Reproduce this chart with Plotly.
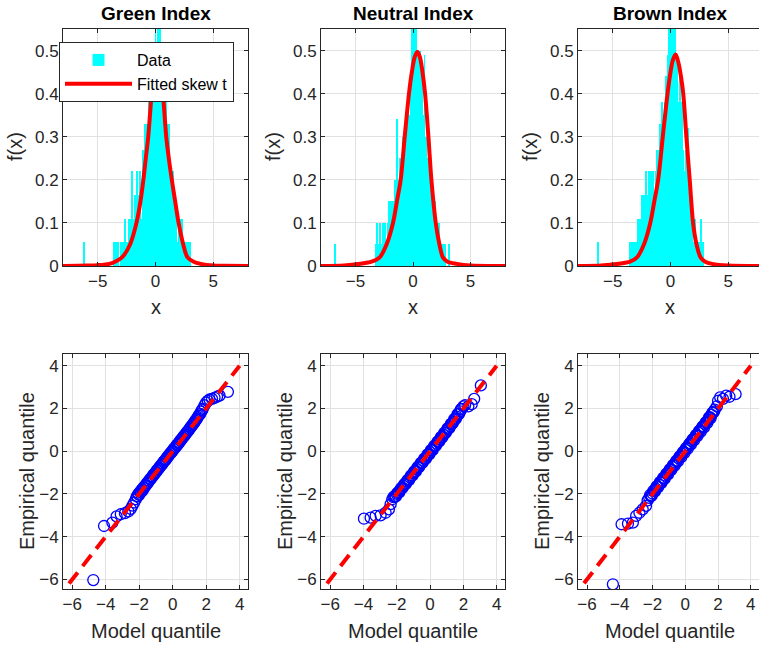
import plotly.graph_objects as go

# ---------------- data ----------------
panel_titles = ["Green Index", "Neutral Index", "Brown Index"]

# histogram bins (bin centres, width 0.1) and pdf heights
green_hist_x = [-6.2, -3.6, -3.4, -3.3, -3.2, -3.0, -2.9, -2.8, -2.7, -2.6, -2.5, -2.4, -2.3, -2.2, -2.1,
                -2.0, -1.9, -1.8, -1.7, -1.6, -1.5, -1.4, -1.3, -1.2, -1.1, -1.0, -0.9, -0.8, -0.7, -0.6,
                -0.5, -0.4, -0.3, -0.2, -0.1, 0.0, 0.1, 0.2, 0.3, 0.4, 0.5, 0.6, 0.7, 0.8, 0.9, 1.0, 1.1,
                1.2, 1.3, 1.4, 1.5, 1.6, 1.7, 1.8, 1.9, 2.0, 2.1, 2.2, 2.3, 2.4, 2.5, 2.6, 2.8, 3.0]
green_hist_h = [0.055, 0.055, 0.055, 0.055, 0.055, 0.055, 0.055, 0.055, 0.055, 0.11, 0.055, 0.055, 0.11, 0.055, 0.11,
                0.22, 0.11, 0.165, 0.11, 0.22, 0.11, 0.165, 0.22, 0.11, 0.27, 0.22, 0.33, 0.27, 0.33, 0.38,
                0.33, 0.44, 0.38, 0.49, 0.44, 0.55, 0.49, 0.60, 0.60, 0.55, 0.44, 0.49, 0.38, 0.33, 0.38, 0.33, 0.27,
                0.33, 0.22, 0.165, 0.22, 0.11, 0.165, 0.11, 0.055, 0.11, 0.11, 0.055, 0.11, 0.055, 0.055, 0.055, 0.055, 0.055]

neutral_hist_x = [-6.8, -3.2, -3.1, -3.0, -2.9, -2.8, -2.7, -2.6, -2.5, -2.4, -2.3, -2.2, -2.1, -2.0, -1.9,
                  -1.8, -1.7, -1.6, -1.5, -1.4, -1.3, -1.2, -1.1, -1.0, -0.9, -0.8, -0.7, -0.6, -0.5, -0.4,
                  -0.3, -0.2, -0.1, 0.0, 0.1, 0.2, 0.3, 0.4, 0.5, 0.6, 0.7, 0.8, 0.9, 1.0, 1.1, 1.2, 1.3,
                  1.4, 1.5, 1.6, 1.7, 1.8, 1.9, 2.0, 2.1, 2.2, 2.3, 2.4, 2.6, 2.8, 3.1]
neutral_hist_h = [0.05, 0.05, 0.10, 0.05, 0.10, 0.05, 0.05, 0.10, 0.05, 0.10, 0.05, 0.10, 0.15, 0.10, 0.15,
                  0.10, 0.15, 0.20, 0.15, 0.34, 0.20, 0.15, 0.25, 0.20, 0.30, 0.25, 0.30, 0.35, 0.30, 0.40,
                  0.35, 0.45, 0.55, 0.50, 0.60, 0.55, 0.60, 0.50, 0.45, 0.50, 0.40, 0.45, 0.35, 0.49, 0.30, 0.25, 0.20,
                  0.25, 0.15, 0.20, 0.15, 0.10, 0.15, 0.05, 0.10, 0.05, 0.10, 0.05, 0.05, 0.05, 0.05]

brown_hist_x = [-6.3, -3.5, -3.3, -3.2, -3.0, -2.9, -2.8, -2.7, -2.6, -2.5, -2.4, -2.3, -2.2, -2.1, -2.0,
                -1.9, -1.8, -1.7, -1.6, -1.5, -1.4, -1.3, -1.2, -1.1, -1.0, -0.9, -0.8, -0.7, -0.6, -0.5,
                -0.4, -0.3, -0.2, -0.1, 0.0, 0.1, 0.2, 0.3, 0.4, 0.5, 0.6, 0.7, 0.8, 0.9, 1.0, 1.1, 1.2,
                1.3, 1.4, 1.5, 1.6, 1.7, 1.8, 1.9, 2.0, 2.1, 2.2, 2.3, 2.5, 2.6, 2.8]
brown_hist_h = [0.055, 0.055, 0.055, 0.055, 0.055, 0.055, 0.11, 0.055, 0.11, 0.165, 0.11, 0.165, 0.11, 0.22, 0.165,
                0.22, 0.11, 0.22, 0.165, 0.22, 0.165, 0.22, 0.27, 0.22, 0.27, 0.33, 0.27, 0.38, 0.33, 0.38,
                0.44, 0.38, 0.49, 0.60, 0.55, 0.60, 0.49, 0.60, 0.55, 0.44, 0.49, 0.38, 0.44, 0.33, 0.38, 0.27, 0.22,
                0.27, 0.165, 0.32, 0.165, 0.11, 0.165, 0.11, 0.055, 0.11, 0.055, 0.055, 0.055, 0.11, 0.055]

# fitted skew-t density
green_fit_x = [-8.0, -6.0, -5.0, -4.0, -3.5, -2.9, -2.2, -1.62, -1.3, -1.05, -0.84, -0.63, -0.34, -0.1,
               0.15, 0.4, 0.65, 0.93, 1.15, 1.41, 1.7, 1.98, 2.4, 2.77, 3.3, 3.9, 5.0, 6.0, 8.0]
green_fit_y = [0.0, 0.001, 0.002, 0.005, 0.01, 0.02, 0.05, 0.103, 0.15, 0.20, 0.25, 0.30, 0.40, 0.48,
               0.51, 0.48, 0.40, 0.30, 0.25, 0.20, 0.15, 0.103, 0.05, 0.02, 0.01, 0.005, 0.001, 0.0005, 0.0]

neutral_fit_x = [-8.0, -6.0, -4.6, -3.6, -2.9, -2.3, -1.74, -1.4, -1.07, -0.72, -0.35, -0.1, 0.15, 0.38,
                 0.6, 0.8, 1.05, 1.34, 1.6, 1.98, 2.3, 2.6, 3.0, 3.8, 5.0, 8.0]
neutral_fit_y = [0.0, 0.001, 0.005, 0.01, 0.02, 0.05, 0.10, 0.15, 0.20, 0.30, 0.40, 0.45, 0.485, 0.497,
                 0.485, 0.455, 0.40, 0.30, 0.20, 0.10, 0.05, 0.02, 0.01, 0.005, 0.001, 0.0]

brown_fit_x = [-8.0, -6.0, -4.5, -3.5, -2.9, -2.3, -1.75, -1.4, -1.07, -0.67, -0.26, 0.0, 0.2, 0.44,
               0.7, 0.9, 1.1, 1.37, 1.66, 1.95, 2.25, 2.6, 3.0, 3.6, 5.0, 8.0]
brown_fit_y = [0.0, 0.001, 0.005, 0.01, 0.02, 0.05, 0.10, 0.15, 0.20, 0.30, 0.40, 0.45, 0.478, 0.491,
               0.47, 0.44, 0.40, 0.30, 0.20, 0.10, 0.05, 0.02, 0.01, 0.005, 0.001, 0.0]

# Q-Q plot: model quantile vs empirical quantile
green_qq_model = [-4.74, -4.1, -3.6, -3.35, -3.1, -2.85, -2.65, -2.5, -2.4, -2.3,
                  -2.2, -2.1, -2.0, -1.9, -1.8, -1.7, -1.6, -1.5, -1.4, -1.3, -1.2, -1.1, -1.0, -0.9,
                  -0.8, -0.7, -0.6, -0.5, -0.4, -0.3, -0.2, -0.1, 0.0, 0.1, 0.2, 0.3, 0.4, 0.5, 0.6,
                  0.7, 0.8, 0.9, 1.0, 1.1, 1.2, 1.3, 1.4, 1.5, 1.6, 1.7, 1.8,
                  1.9, 2.0, 2.1, 2.2, 2.35, 2.5, 2.65, 2.8, 3.3,
                  -2.15, -2.05, -1.95, -1.85, -1.75, -1.65, -1.55, -1.45, -1.35, -1.25, -1.15, -1.05, -0.95,
                  -0.85, -0.75, -0.65, -0.55, -0.45, -0.35, -0.25, -0.15, -0.05, 0.05, 0.15, 0.25, 0.35,
                  0.45, 0.55, 0.65, 0.75, 0.85, 0.95, 1.05, 1.15, 1.25, 1.35, 1.45, 1.55, 1.65, 1.75]
green_qq_emp = [-6.03, -3.5, -3.34, -3.05, -2.95, -2.9, -2.82, -2.7, -2.55, -2.4,
                -2.25, -2.12, -2.05, -1.92, -1.85, -1.72, -1.6, -1.5, -1.38, -1.3, -1.18, -1.08, -0.98, -0.88,
                -0.78, -0.68, -0.58, -0.47, -0.38, -0.27, -0.17, -0.08, 0.02, 0.12, 0.21, 0.31, 0.41, 0.52, 0.62,
                0.72, 0.83, 0.93, 1.04, 1.14, 1.25, 1.36, 1.48, 1.6, 1.72, 1.85, 1.98,
                2.15, 2.28, 2.36, 2.42, 2.45, 2.5, 2.55, 2.6, 2.78,
                -2.12, -2.0, -1.9, -1.8, -1.7, -1.62, -1.5, -1.42, -1.3, -1.22, -1.1, -1.02, -0.9,
                -0.82, -0.7, -0.62, -0.5, -0.42, -0.3, -0.22, -0.1, -0.02, 0.1, 0.18, 0.3, 0.38,
                0.5, 0.58, 0.7, 0.78, 0.9, 0.98, 1.1, 1.2, 1.3, 1.42, 1.52, 1.66, 1.75, 1.92]

neutral_qq_model = [-3.97, -3.57, -3.27, -2.97, -2.67, -2.47, -2.37, -2.27,
                    -2.2, -2.1, -2.0, -1.9, -1.8, -1.7, -1.6, -1.5, -1.4, -1.3, -1.2, -1.1, -1.0, -0.9,
                    -0.8, -0.7, -0.6, -0.5, -0.4, -0.3, -0.2, -0.1, 0.0, 0.1, 0.2, 0.3, 0.4, 0.5, 0.6,
                    0.7, 0.8, 0.9, 1.0, 1.1, 1.2, 1.3, 1.4, 1.5, 1.6, 1.7, 1.8, 1.9,
                    2.0, 2.1, 2.3, 2.5, 2.65, 3.05,
                    -2.15, -2.05, -1.95, -1.85, -1.75, -1.65, -1.55, -1.45, -1.35, -1.25, -1.15, -1.05, -0.95,
                    -0.85, -0.75, -0.65, -0.55, -0.45, -0.35, -0.25, -0.15, -0.05, 0.05, 0.15, 0.25, 0.35,
                    0.45, 0.55, 0.65, 0.75, 0.85, 0.95, 1.05, 1.15, 1.25, 1.35, 1.45, 1.55, 1.65, 1.75, 1.85]
neutral_qq_emp = [-3.16, -3.11, -3.03, -3.0, -2.88, -2.72, -2.48, -2.25,
                  -2.15, -2.1, -2.0, -1.92, -1.82, -1.72, -1.62, -1.52, -1.42, -1.33, -1.23, -1.13, -1.03, -0.94,
                  -0.84, -0.74, -0.64, -0.55, -0.45, -0.35, -0.25, -0.15, -0.05, 0.05, 0.15, 0.25, 0.35, 0.45, 0.55,
                  0.66, 0.76, 0.86, 0.96, 1.07, 1.17, 1.28, 1.38, 1.5, 1.62, 1.74, 1.86, 1.98,
                  2.1, 2.15, 2.1, 2.2, 2.45, 3.08,
                  -2.12, -2.12, -1.95, -1.93, -1.75, -1.72, -1.55, -1.53, -1.35, -1.34, -1.14, -1.13, -0.94,
                  -0.94, -0.74, -0.74, -0.55, -0.54, -0.35, -0.35, -0.15, -0.15, 0.05, 0.05, 0.25, 0.26,
                  0.45, 0.46, 0.66, 0.66, 0.86, 0.87, 1.07, 1.08, 1.28, 1.3, 1.5, 1.52, 1.74, 1.76, 1.96]

brown_qq_model = [-4.42, -3.89, -3.5, -3.2, -3.0, -2.8, -2.6, -2.4, -2.3,
                  -2.2, -2.1, -2.0, -1.9, -1.8, -1.7, -1.6, -1.5, -1.4, -1.3, -1.2, -1.1, -1.0, -0.9,
                  -0.8, -0.7, -0.6, -0.5, -0.4, -0.3, -0.2, -0.1, 0.0, 0.1, 0.2, 0.3, 0.4, 0.5, 0.6,
                  0.7, 0.8, 0.9, 1.0, 1.1, 1.2, 1.3, 1.4, 1.5, 1.6, 1.7, 1.8,
                  1.93, 2.0, 2.13, 2.3, 2.5, 2.7, 3.07,
                  -2.15, -2.05, -1.95, -1.85, -1.75, -1.65, -1.55, -1.45, -1.35, -1.25, -1.15, -1.05, -0.95,
                  -0.85, -0.75, -0.65, -0.55, -0.45, -0.35, -0.25, -0.15, -0.05, 0.05, 0.15, 0.25, 0.35,
                  0.45, 0.55, 0.65, 0.75, 0.85, 0.95, 1.05, 1.15, 1.25, 1.35, 1.45, 1.55, 1.65, 1.75]
brown_qq_emp = [-6.23, -3.42, -3.39, -3.34, -3.03, -2.88, -2.72, -2.56, -2.3,
                -2.18, -2.1, -1.98, -1.87, -1.77, -1.67, -1.57, -1.46, -1.36, -1.26, -1.15, -1.05, -0.95, -0.85,
                -0.74, -0.64, -0.54, -0.44, -0.33, -0.23, -0.13, -0.03, 0.07, 0.17, 0.27, 0.37, 0.47, 0.57, 0.67,
                0.77, 0.87, 0.97, 1.07, 1.17, 1.27, 1.37, 1.48, 1.59, 1.7, 1.82, 1.95,
                2.1, 2.36, 2.52, 2.45, 2.6, 2.55, 2.67,
                -2.05, -2.08, -1.85, -1.88, -1.65, -1.68, -1.45, -1.48, -1.25, -1.28, -1.05, -1.08, -0.85,
                -0.88, -0.65, -0.68, -0.45, -0.48, -0.25, -0.28, -0.05, -0.08, 0.15, 0.12, 0.35, 0.32,
                0.55, 0.52, 0.75, 0.72, 0.95, 0.92, 1.15, 1.12, 1.35, 1.33, 1.58, 1.55, 1.8, 1.85]

ref_line_x = [-7.0, 4.0]
ref_line_y = [-7.0, 4.0]

hist_tick_vals = [-5, 0, 5]
dens_tick_vals = [0, 0.1, 0.2, 0.3, 0.4, 0.5]
qq_tick_vals = [-6, -4, -2, 0, 2, 4]

hist_x = [green_hist_x, neutral_hist_x, brown_hist_x]
hist_h = [green_hist_h, neutral_hist_h, brown_hist_h]
fit_x = [green_fit_x, neutral_fit_x, brown_fit_x]
fit_y = [green_fit_y, neutral_fit_y, brown_fit_y]
qq_m = [green_qq_model, neutral_qq_model, brown_qq_model]
qq_e = [green_qq_emp, neutral_qq_emp, brown_qq_emp]
for a, b in zip(hist_x, hist_h):
    assert len(a) == len(b)
for a, b in zip(fit_x, fit_y):
    assert len(a) == len(b)
for a, b in zip(qq_m, qq_e):
    assert len(a) == len(b)

# ---------------- layout geometry ----------------
W, H = 759, 645
FONT = "Liberation Sans, Arial, Helvetica, sans-serif"
AXC = "#262626"
GRID = "#E1E1E1"

cols_px = [(63, 248), (321, 505), (578, 759)]
top_px = (29, 266)
bot_px = (354, 589)
top_xrange = [[-8, 8], [-8, 8], [-8, 7.65]]
bot_xrange = [[-6.55, 4.5], [-6.55, 4.5], [-6.55, 4.5]]


def dx(c):
    return [c[0] / W, c[1] / W]


def dy(r):
    return [(H - r[1]) / H, (H - r[0]) / H]


fig = go.Figure()

for i in range(3):
    xa_t = "x" if i == 0 else f"x{i + 1}"
    ya_t = "y" if i == 0 else f"y{i + 1}"
    xa_b = f"x{i + 4}"
    ya_b = f"y{i + 4}"
    fig.add_trace(go.Bar(
        x=hist_x[i], y=hist_h[i], width=0.085, name="Data",
        marker=dict(color="rgb(0,255,255)", line=dict(width=0)),
        showlegend=(i == 0), xaxis=xa_t, yaxis=ya_t))
    fig.add_trace(go.Scatter(
        x=fit_x[i], y=fit_y[i], mode="lines", name="Fitted skew t",
        line=dict(color="#FF0000", width=4, shape="spline", smoothing=0.9),
        showlegend=(i == 0), xaxis=xa_t, yaxis=ya_t))
    fig.add_trace(go.Scatter(
        x=qq_m[i], y=qq_e[i], mode="markers", showlegend=False,
        marker=dict(symbol="circle-open", size=11, color="#0000FF", line=dict(width=1.3, color="#0000FF")),
        xaxis=xa_b, yaxis=ya_b))
    fig.add_trace(go.Scatter(
        x=ref_line_x, y=ref_line_y, mode="lines", showlegend=False,
        line=dict(color="#FF0000", width=4, dash="14px,8px"),
        xaxis=xa_b, yaxis=ya_b))

layout = dict(
    template="none",
    width=W, height=H, autosize=False,
    margin=dict(l=0, r=0, t=0, b=0, pad=0, autoexpand=False),
    paper_bgcolor="white", plot_bgcolor="white",
    barmode="overlay", bargap=0,
    font=dict(family=FONT, color=AXC),
    showlegend=True,
    legend=dict(x=59 / W, y=(H - 42) / H, xanchor="left", yanchor="top",
                bgcolor="white", bordercolor=AXC, borderwidth=1,
                font=dict(family=FONT, size=16, color="#000000"),
                itemwidth=67, tracegroupgap=0, traceorder="normal"),
)

base_axis = dict(showline=True, linecolor=AXC, linewidth=1, ticks="inside", ticklen=4,
                 tickcolor=AXC, showgrid=True, gridcolor=GRID, gridwidth=1, zeroline=False,
                 automargin=False,
                 tickfont=dict(family=FONT, size=17, color=AXC))

for i in range(3):
    sx_t = "xaxis" if i == 0 else f"xaxis{i + 1}"
    sy_t = "yaxis" if i == 0 else f"yaxis{i + 1}"
    sx_b = f"xaxis{i + 4}"
    sy_b = f"yaxis{i + 4}"
    anc_x_t = "x" if i == 0 else f"x{i + 1}"
    anc_y_t = "y" if i == 0 else f"y{i + 1}"
    ymirror = "ticks" if i < 2 else False
    layout[sx_t] = dict(base_axis, domain=dx(cols_px[i]), anchor=anc_y_t, range=top_xrange[i],
                        tickvals=hist_tick_vals, mirror="ticks")
    layout[sy_t] = dict(base_axis, domain=dy(top_px), anchor=anc_x_t, range=[0, 0.55],
                        tickvals=dens_tick_vals, mirror=ymirror)
    layout[sx_b] = dict(base_axis, domain=dx(cols_px[i]), anchor=f"y{i + 4}", range=bot_xrange[i],
                        tickvals=qq_tick_vals, mirror="ticks")
    layout[sy_b] = dict(base_axis, domain=dy(bot_px), anchor=f"x{i + 4}", range=[-6.45, 4.55],
                        tickvals=qq_tick_vals, mirror=ymirror)

fig.update_layout(**layout)

# titles and axis labels
ann = []
centers = [(63 + 248) / 2, (321 + 505) / 2, (578 + 762) / 2]
for i in range(3):
    cx = centers[i] / W
    left = cols_px[i][0]
    ann.append(dict(text=f"<b>{panel_titles[i]}</b>", x=cx, y=(H - 14) / H, xref="paper", yref="paper",
                    xanchor="center", yanchor="middle", showarrow=False,
                    font=dict(family=FONT, size=19, color="#000000")))
    ann.append(dict(text="x", x=cx, y=(H - 307) / H, xref="paper", yref="paper",
                    xanchor="center", yanchor="middle", showarrow=False,
                    font=dict(family=FONT, size=20, color=AXC)))
    ann.append(dict(text="f(x)", x=(left - 48) / W, y=(H - 147) / H, xref="paper", yref="paper",
                    xanchor="center", yanchor="middle", showarrow=False, textangle=-90,
                    font=dict(family=FONT, size=20, color=AXC)))
    ann.append(dict(text="Model quantile", x=cx, y=(H - 631) / H, xref="paper", yref="paper",
                    xanchor="center", yanchor="middle", showarrow=False,
                    font=dict(family=FONT, size=20, color=AXC)))
    ann.append(dict(text="Empirical quantile", x=(left - 36) / W, y=(H - 471) / H, xref="paper", yref="paper",
                    xanchor="center", yanchor="middle", showarrow=False, textangle=-90,
                    font=dict(family=FONT, size=20, color=AXC)))
fig.update_layout(annotations=ann)

fig.write_html(
    "out.html",
    config={"displayModeBar": False, "responsive": False},
    post_script=("document.documentElement.style.overflow='hidden';"
                 "document.body.style.margin='0';document.body.style.padding='0';"
                 "document.body.style.overflow='hidden';document.body.style.height='645px';"),
)
